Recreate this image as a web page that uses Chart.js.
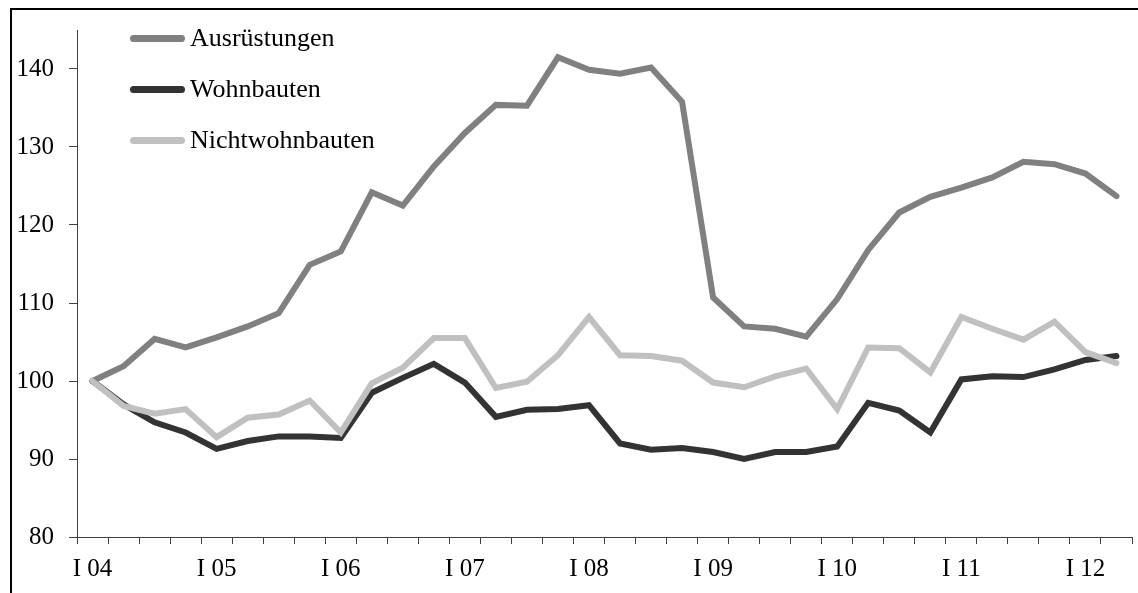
<!DOCTYPE html>
<html lang="de">
<head>
<meta charset="utf-8">
<title>Investitionen</title>
<script src="https://cdn.jsdelivr.net/npm/chart.js@4.4.1/dist/chart.umd.min.js"></script>
<style>
  html, body { margin: 0; padding: 0; background: #fff; }
  #wrap { position: relative; width: 1138px; height: 593px; overflow: hidden; }
  #frame {
    position: absolute; left: 10px; top: 8px; right: -10px; bottom: -10px;
    border-top: 2px solid #000; border-left: 2px solid #000; pointer-events: none;
  }
  #legend { position: absolute; left: 130px; top: 0; }
  .lg-item {
    position: absolute; left: 0; height: 30px; display: flex; align-items: center;
    white-space: nowrap; font-family: "Liberation Serif", "Times New Roman", serif;
    font-size: 26px; color: #000;
  }
  .lg-line { width: 55px; height: 7px; border-radius: 4px; margin-right: 5px; }
</style>
</head>
<body>
<div id="wrap">
  <canvas id="chart" width="1138" height="593"></canvas>
  <div id="frame"></div>
  <div id="legend"></div>
</div>
<script>
  // ── Data (index 2004 Q1 = 100) ───────────────────────────────────
  const quarters = [
    "I 04", "II 04", "III 04", "IV 04",
    "I 05", "II 05", "III 05", "IV 05",
    "I 06", "II 06", "III 06", "IV 06",
    "I 07", "II 07", "III 07", "IV 07",
    "I 08", "II 08", "III 08", "IV 08",
    "I 09", "II 09", "III 09", "IV 09",
    "I 10", "II 10", "III 10", "IV 10",
    "I 11", "II 11", "III 11", "IV 11",
    "I 12", "II 12"
  ];

  const ausruestungen = [
    100.0, 101.9, 105.4, 104.3, 105.6, 107.0, 108.7, 114.9,
    116.6, 124.2, 122.5, 127.5, 131.8, 135.4, 135.3, 141.5,
    139.9, 139.4, 140.2, 135.8, 110.7, 107.0, 106.7, 105.7,
    110.5, 116.8, 121.6, 123.6, 124.8, 126.1, 128.1, 127.8,
    126.6, 123.7
  ];

  const wohnbauten = [
    100.0, 97.0, 94.7, 93.4, 91.3, 92.3, 92.9, 92.9,
    92.7, 98.5, 100.4, 102.2, 99.8, 95.4, 96.3, 96.4,
    96.9, 92.0, 91.2, 91.4, 90.9, 90.0, 90.9, 90.9,
    91.6, 97.2, 96.2, 93.4, 100.2, 100.6, 100.5, 101.5,
    102.7, 103.2
  ];

  const nichtwohnbauten = [
    100.0, 96.8, 95.8, 96.4, 92.8, 95.3, 95.7, 97.5,
    93.4, 99.7, 101.7, 105.5, 105.5, 99.1, 99.9, 103.3,
    108.2, 103.3, 103.2, 102.6, 99.8, 99.2, 100.6, 101.6,
    96.4, 104.3, 104.2, 101.1, 108.2, 106.7, 105.3, 107.6,
    103.7, 102.3
  ];

  const yTicks = [80, 90, 100, 110, 120, 130, 140];

  // ── Styles ───────────────────────────────────────────────────────
  const fontFamily = "'Liberation Serif', 'Times New Roman', serif";
  const axisColor  = "#404040";

  function series(label, data, color, order) {
    return {
      label,
      data,
      borderColor: color,
      backgroundColor: color,
      borderWidth: 6,
      borderCapStyle: "round",
      borderJoinStyle: "miter",
      pointRadius: 0,
      tension: 0,
      fill: false,
      order,
    };
  }

  const ctx = document.getElementById("chart").getContext("2d");

  const chart = new Chart(ctx, {
    type: "line",
    data: {
      labels: quarters,
      datasets: [
        series("Ausrüstungen", ausruestungen, "#808080", 3),
        series("Wohnbauten", wohnbauten, "#333333", 2),
        series("Nichtwohnbauten", nichtwohnbauten, "#c0c0c0", 1),
      ],
    },
    options: {
      responsive: false,
      animation: false,
      layout: { padding: { top: 27, right: 6, left: 0, bottom: 0 } },
      plugins: {
        legend: { display: false },
        tooltip: { enabled: false },
      },
      scales: {
        x: {
          type: "category",
          offset: true,
          grid: {
            offset: true,
            drawOnChartArea: false,
            drawTicks: true,
            tickLength: 7,
            color: axisColor,
            lineWidth: 1,
          },
          border: { color: axisColor, width: 1 },
          ticks: {
            autoSkip: false,
            maxRotation: 0,
            minRotation: 0,
            padding: 10,
            color: "#000",
            font: { family: fontFamily, size: 25 },
            callback: function (value) {
              const lbl = this.getLabelForValue(value);
              return lbl.startsWith("I ") ? lbl : "";
            },
          },
          afterFit: (scale) => { scale.height = 56; },
        },
        y: {
          min: 80,
          max: 145,
          grid: {
            drawOnChartArea: false,
            drawTicks: true,
            tickLength: 8,
            color: axisColor,
            lineWidth: 1,
          },
          border: { color: axisColor, width: 1 },
          afterBuildTicks: (scale) => {
            scale.ticks = yTicks.map((v) => ({ value: v }));
          },
          ticks: {
            padding: 15,
            color: "#000",
            font: { family: fontFamily, size: 25 },
          },
          afterFit: (scale) => { scale.width = 77; },
        },
      },
    },
  });

  // ── HTML legend ──────────────────────────────────────────────────
  const legendEl = document.getElementById("legend");
  chart.data.datasets.forEach((ds, i) => {
    const item = document.createElement("div");
    item.className = "lg-item";
    item.style.top = (38 + i * 51 - 15) + "px";
    const line = document.createElement("span");
    line.className = "lg-line";
    line.style.background = ds.borderColor;
    const txt = document.createElement("span");
    txt.textContent = ds.label;
    item.appendChild(line);
    item.appendChild(txt);
    legendEl.appendChild(item);
  });
</script>
</body>
</html>
